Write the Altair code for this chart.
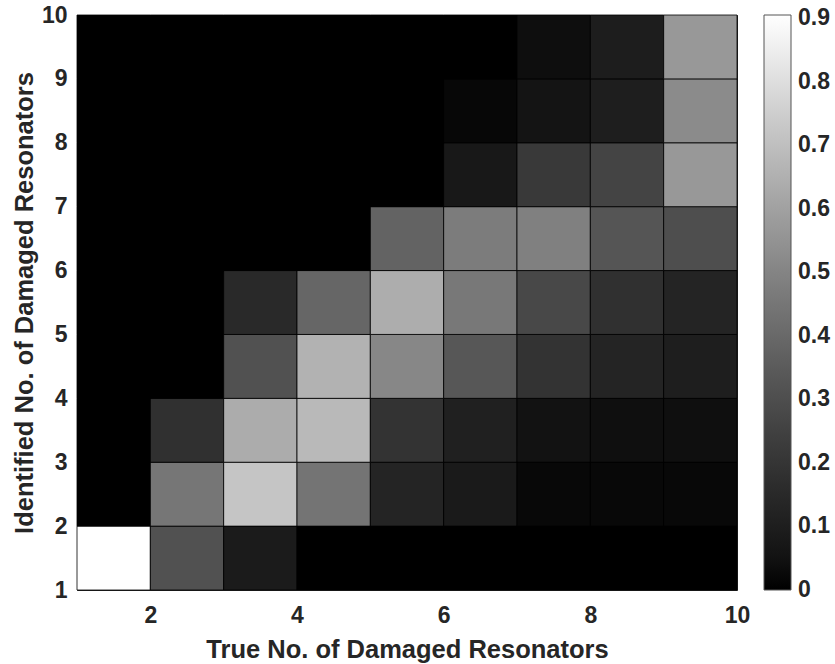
import altair as alt
import pandas as pd

# Lower edges of the cells (pcolor-style grid from 1 to 10)
true_counts = [1, 2, 3, 4, 5, 6, 7, 8, 9]
identified_counts = [1, 2, 3, 4, 5, 6, 7, 8, 9]

# Identification rates, one list per identified count (bottom row first),
# each list running over the true count
rate_id1 = [0.905, 0.31, 0.09, 0.0, 0.0, 0.0, 0.0, 0.0, 0.0]
rate_id2 = [0.0, 0.45, 0.72, 0.44, 0.13, 0.085, 0.02, 0.02, 0.02]
rate_id3 = [0.0, 0.18, 0.635, 0.68, 0.19, 0.11, 0.05, 0.04, 0.04]
rate_id4 = [0.0, 0.0, 0.31, 0.655, 0.51, 0.335, 0.19, 0.13, 0.10]
rate_id5 = [0.0, 0.0, 0.15, 0.39, 0.64, 0.455, 0.275, 0.18, 0.13]
rate_id6 = [0.0, 0.0, 0.0, 0.0, 0.38, 0.47, 0.485, 0.325, 0.30]
rate_id7 = [0.0, 0.0, 0.0, 0.0, 0.0, 0.075, 0.215, 0.26, 0.57]
rate_id8 = [0.0, 0.0, 0.0, 0.0, 0.0, 0.018, 0.057, 0.10, 0.525]
rate_id9 = [0.0, 0.0, 0.0, 0.0, 0.0, 0.0, 0.035, 0.095, 0.57]

rate_rows = [rate_id1, rate_id2, rate_id3, rate_id4, rate_id5,
             rate_id6, rate_id7, rate_id8, rate_id9]

x_ticks = [2, 4, 6, 8, 10]
y_ticks = [1, 2, 3, 4, 5, 6, 7, 8, 9, 10]
colorbar_ticks = [0, 0.1, 0.2, 0.3, 0.4, 0.5, 0.6, 0.7, 0.8, 0.9]
# colour limits; the lower limit sits a hair below zero so that the "0"
# label of the gradient stays centred on its end like the others
color_min = -0.0005
color_max = 0.905

records = []
for ident, row in zip(identified_counts, rate_rows):
    for true, rate in zip(true_counts, row):
        records.append({"true": true, "ident": ident, "rate": rate})
df = pd.DataFrame(records)

FONT = "Liberation Sans"
TXT = "#262626"
LABEL_SIZE = 23

chart = (
    alt.Chart(df)
    .transform_calculate(true_end="datum.true + 1", ident_end="datum.ident + 1")
    .mark_rect(stroke="black", strokeWidth=0.8)
    .encode(
        x=alt.X(
            "true:Q",
            scale=alt.Scale(domain=[1, 10], nice=False, zero=False),
            axis=alt.Axis(
                values=x_ticks,
                title="True No. of Damaged Resonators",
                titleY=67,
                titleBaseline="alphabetic",
                labelPadding=14,
            ),
        ),
        x2="true_end:Q",
        y=alt.Y(
            "ident:Q",
            scale=alt.Scale(domain=[1, 10], nice=False, zero=False),
            axis=alt.Axis(
                values=y_ticks,
                title="Identified No. of Damaged Resonators",
                titleX=-45,
                titleBaseline="alphabetic",
                labelPadding=10,
            ),
        ),
        y2="ident_end:Q",
        color=alt.Color(
            "rate:Q",
            scale=alt.Scale(domain=[color_min, color_max], range=["#000000", "#ffffff"]),
            legend=alt.Legend(
                orient="none",
                legendX=687,
                legendY=0,
                direction="vertical",
                gradientLength=575,
                gradientThickness=27,
                gradientStrokeColor="#555555",
                gradientStrokeWidth=1,
                values=colorbar_ticks,
                format=".1~f",
                labelFont=FONT,
                labelFontSize=LABEL_SIZE,
                labelFontWeight="bold",
                labelColor=TXT,
                labelOffset=7,
                labelBaseline="middle",
                labelOverlap=False,
                padding=0,
                title=None,
            ),
        ),
    )
    .properties(
        width=660,
        height=575,
        autosize=alt.AutoSizeParams(type="none"),
        padding={"left": 77, "top": 15, "right": 98, "bottom": 74},
    )
    .configure_view(stroke=TXT, strokeWidth=1, fill="black")
    .configure_axis(
        grid=False,
        ticks=False,
        tickSize=0,
        domain=False,
        labelFlush=False,
        labelFont=FONT,
        labelFontSize=LABEL_SIZE,
        labelFontWeight="bold",
        labelColor=TXT,
        titleFont=FONT,
        titleFontSize=25.5,
        titleFontWeight="bold",
        titleColor=TXT,
    )
)

chart.save("out.html", embed_options={"renderer": "svg", "actions": False})
